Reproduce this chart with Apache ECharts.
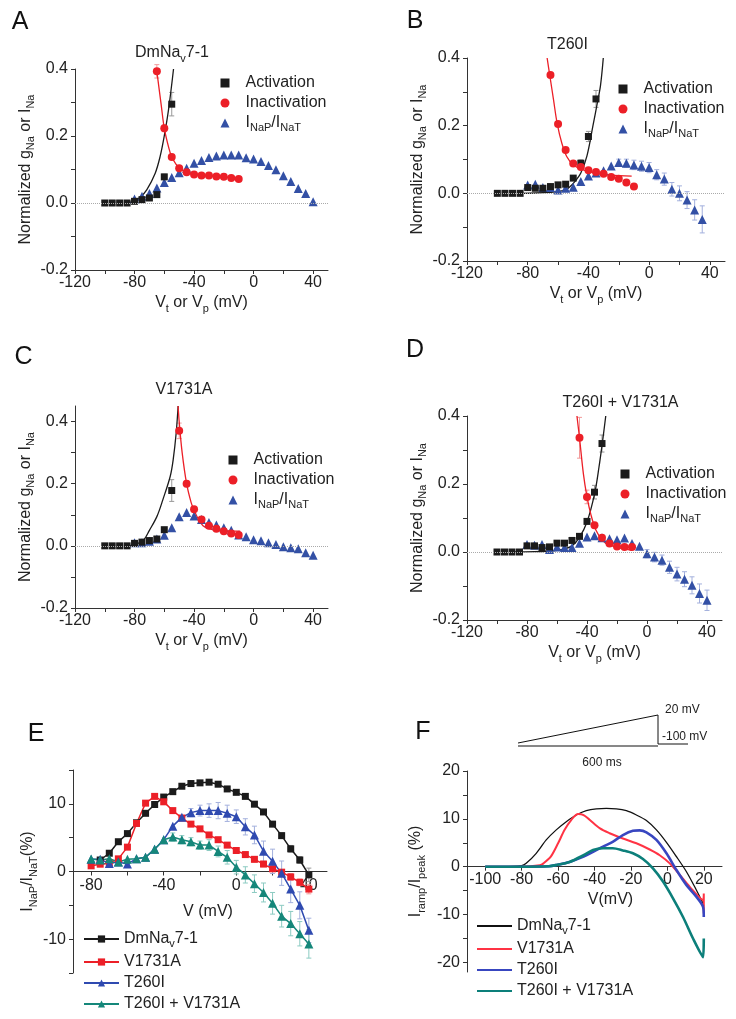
<!DOCTYPE html>
<html><head><meta charset="utf-8">
<style>html,body{margin:0;padding:0;background:#fff}#c{width:736px;height:1019px}</style>
<script src="https://cdn.jsdelivr.net/npm/echarts@6.0.0/dist/echarts.min.js"></script>
</head><body><div id="c"></div>
<script>
// ---------------- DATA ----------------
const vStep5 = [-80,-75,-70,-65,-60,-55,-50,-45,-40,-35,-30,-25,-20,-15,-10,-5,0,5,10,15,20,25,30,35,40];
// Panel A (DmNav7-1)
const vA_act = [-100,-95,-90,-85,-80,-75,-70,-65,-60,-55];
const gA_act = [0,0,0,0,0.005,0.01,0.015,0.025,0.078,0.295];
const eA_act = [0,0,0,0,0,0,0,0,0.008,0.035];
const vA_inact = [-65,-60,-55,-50,-45,-40,-35,-30,-25,-20,-15,-10];
const gA_inact = [0.393,0.223,0.137,0.104,0.092,0.085,0.082,0.082,0.079,0.078,0.075,0.072];
const eA_inact = [0.02,0.01,0,0,0,0,0,0,0,0,0,0];
const gA_ratio = [0.012,0.02,0.028,0.045,0.061,0.076,0.09,0.104,0.119,0.127,0.136,0.14,0.143,0.143,0.143,0.135,0.131,0.124,0.112,0.099,0.081,0.064,0.043,0.028,0.004];
const vA_actFit = [-85,-80.6,-76,-71.7,-66.1,-62.8,-60.1,-57.2,-53.8];
const gA_actFit = [0.001,0.005,0.018,0.04,0.089,0.139,0.198,0.277,0.4];
const vA_inactFit = [-65,-62,-60,-57,-55,-52,-50,-45,-40,-30,-20,-10];
const gA_inactFit = [0.393,0.29,0.223,0.165,0.137,0.115,0.104,0.092,0.086,0.081,0.078,0.072];
// Panel B (T260I)
const vB_act = [-100,-95,-90,-85,-80,-75,-70,-65,-60,-55,-50,-45,-40,-35];
const gB_act = [0,0,0,0,0.017,0.015,0.015,0.02,0.025,0.027,0.045,0.089,0.168,0.279];
const eB_act = [0,0,0,0,0,0,0,0,0,0,0.005,0.01,0.015,0.025];
const vB_inact = [-65,-60,-55,-50,-45,-40,-35,-30,-25,-20,-15,-10];
const gB_inact = [0.35,0.205,0.128,0.088,0.078,0.068,0.063,0.058,0.048,0.043,0.032,0.02];
const vB_ratio = [-80,-75,-70,-65,-60,-55,-50,-45,-40,-35,-30,-25,-20,-15,-10,-5,0,5,10,15,20,25,30,35];
const gB_ratio = [0.025,0.027,0.017,0.017,0.01,0.015,0.018,0.035,0.051,0.06,0.067,0.081,0.091,0.089,0.084,0.08,0.076,0.055,0.042,0.012,0.0,-0.02,-0.049,-0.077];
const eB_ratio = [0,0,0,0,0,0,0,0,0,0,0,0,0.01,0.012,0.014,0.015,0.015,0.015,0.018,0.02,0.022,0.025,0.03,0.04];
const vB_actFit = [-85,-75,-65,-60,-55,-52,-48,-45,-41,-37,-34,-32,-30.2];
const gB_actFit = [0,0.001,0.003,0.005,0.01,0.02,0.04,0.06,0.11,0.2,0.27,0.32,0.4];
const vB_inactFit = [-67.2,-65.5,-63,-60.6,-57.5,-54.3,-49.9,-43.4,-34.6,-25.8,-11.5];
const gB_inactFit = [0.4,0.35,0.277,0.207,0.148,0.109,0.084,0.069,0.059,0.054,0.051];
// Panel C (V1731A)
const vC_act = [-100,-95,-90,-85,-80,-75,-70,-65,-60,-55];
const gC_act = [0,0,0,0,0.008,0.012,0.017,0.022,0.052,0.178];
const eC_act = [0,0,0,0,0,0,0,0,0.005,0.035];
const vC_inact = [-50,-45,-40,-35,-30,-25,-20,-15,-10];
const gC_inact = [0.37,0.2,0.118,0.085,0.065,0.055,0.047,0.04,0.035];
const eC_inact = [0.025,0.01,0,0,0,0,0,0,0];
const gC_ratio = [0.01,0.01,0.015,0.022,0.034,0.058,0.094,0.107,0.096,0.085,0.075,0.067,0.058,0.05,0.035,0.029,0.02,0.016,0.01,0.004,-0.003,-0.006,-0.009,-0.022,-0.03];
const vC_actFit = [-85,-80,-74,-70,-65,-61,-56,-54,-52,-50.7];
const gC_actFit = [0,0.004,0.018,0.05,0.094,0.148,0.224,0.278,0.364,0.45];
const vC_inactFit = [-50.7,-50,-48,-45,-42,-40,-37,-34,-30,-25,-15,-9];
const gC_inactFit = [0.45,0.4,0.3,0.2,0.14,0.115,0.085,0.065,0.055,0.05,0.048,0.047];
// Panel D (T260I + V1731A)
const vD_act = [-100,-95,-90,-85,-80,-75,-70,-65,-60,-55,-50,-45,-40,-35,-30];
const gD_act = [0,0,0,0,0.018,0.018,0.013,0.015,0.026,0.026,0.034,0.046,0.09,0.176,0.319];
const eD_act = [0,0,0,0,0,0,0,0,0,0,0,0,0.008,0.02,0.025];
const vD_inact = [-45,-40,-35,-30,-25,-20,-15,-10];
const gD_inact = [0.336,0.162,0.079,0.042,0.025,0.016,0.015,0.015];
const eD_inact = [0.06,0.02,0.008,0,0,0,0,0];
const gD_ratio = [0.022,0.02,0.022,0.007,0.015,0.013,0.013,0.026,0.044,0.048,0.042,0.039,0.036,0.041,0.025,0.017,-0.005,-0.015,-0.024,-0.045,-0.065,-0.08,-0.098,-0.122,-0.142];
const eD_ratio = [0,0,0,0,0,0,0,0,0,0,0,0,0,0,0,0,0.012,0.014,0.015,0.018,0.02,0.022,0.025,0.028,0.03];
const vD_actFit = [-90,-75,-65,-60,-55,-50,-45,-40,-35,-32,-29.5,-27.5];
const gD_actFit = [0,0.001,0.003,0.005,0.009,0.018,0.043,0.088,0.17,0.25,0.33,0.4];
const vD_inactFit = [-46.7,-45,-42.4,-40,-37.4,-34,-29.6,-25,-16,-10];
const gD_inactFit = [0.4,0.336,0.23,0.162,0.11,0.064,0.034,0.02,0.01,0.005];
// Panel E (INaP/INaT %)
const vE_black = [-75,-70,-65,-60,-55,-50,-45,-40,-35,-30,-25,-20,-15,-10,-5,0,5,10,15,20,25,30,35,40];
const pE_black = [1.7,2.7,4.4,5.6,7.2,8.6,9.9,11.0,11.8,12.6,13.0,13.1,13.2,12.9,12.2,11.7,11.1,9.95,8.8,7.0,5.3,3.35,1.7,-0.5];
const eE_black = [0,0,0,0,0,0,0,0,0,0,0,0,0,0,0.3,0.3,0.3,0.3,0.3,0.3,0.4,0.5,0.5,1.0];
const pE_red = [0.84,1.08,1.23,1.87,3.6,7.1,10.1,11.1,10.3,9.0,7.9,7.0,6.3,5.4,4.7,3.9,3.1,2.5,1.8,1.1,0.4,-0.1,-0.8,-1.6,-2.6];
const eE_red = [0,0,0,0,0,0,0,0,0,0,0,0,0,0,0,0,0.4,0.4,0.4,0.4,0.4,0.4,0.5,0.5,0.7];
const pE_blue = [1.8,1.8,1.2,1.4,1.1,1.9,2.1,3.3,4.7,6.7,8.0,8.7,9.0,9.0,9.0,8.6,8.1,6.6,5.4,3.0,1.5,-0.25,-2.6,-5.0,-8.7];
const eE_blue = [0,0,0,0,0,0,0,0,0,0,0,0.6,0.8,1.0,1.2,1.2,1.0,1.2,1.3,1.5,1.8,1.8,2.0,2.0,1.8];
const pE_teal = [1.85,1.7,1.9,1.4,1.8,1.9,2.1,3.3,4.7,5.1,4.7,4.4,3.9,3.9,2.96,2.1,0.64,-0.5,-1.8,-3.1,-4.7,-6.6,-7.7,-9.2,-10.7];
const eE_teal = [0,0,0,0,0,0,0,0,0,0.6,0.6,0.6,0.6,0.8,0.8,1.0,1.0,1.2,1.3,1.4,1.6,1.6,1.8,1.8,2.1];
// Panel F (ramp currents, Iramp/Ipeak %)
const vF_black = [-100,-90,-80,-77.5,-72,-66.5,-61,-55.5,-50,-44.5,-39,-33.5,-28,-22.5,-17,-11.5,-6,-0.5,5,10.4,15,19.6,20];
const iF_black = [0,0,0.2,0.7,2.8,5.6,7.7,9.4,10.8,11.7,12.1,12.2,12.1,11.7,10.8,9.65,7.7,5.1,2.1,-1.0,-4.2,-7.7,-8.2];
const vF_red = [-100,-80,-70,-68,-64,-60,-56.4,-52.7,-49,-46,-42.7,-37,-31.7,-24.4,-17,-9.7,-4.2,1.3,6.8,12.3,19.6,20,20];
const iF_red = [0,0,0.3,0.7,2.1,4.9,7.7,9.8,11.0,10.8,9.8,8.0,7.0,5.9,4.9,3.6,2.4,0.7,-1.7,-4.2,-7.0,-5.6,-9.8];
const vF_blue = [-100,-80,-65,-61,-53.7,-46,-40.8,-35.3,-30,-24.4,-18.9,-15.2,-11.5,-6,-0.5,5,10.4,16,19.6,20];
const iF_blue = [0,0,0.1,0.35,1.0,2.1,3.1,4.2,5.2,6.6,7.5,7.6,7.2,5.6,2.8,-0.7,-3.8,-6.3,-8.4,-10.5];
const vF_teal = [-100,-80,-65,-61,-53.7,-46,-40.8,-35.3,-30,-24.4,-18.9,-13.4,-7.9,-2.4,3.1,8.6,14.1,19.6,20];
const iF_teal = [0,0,0.1,0.35,1.0,2.4,3.5,3.85,3.85,3.4,2.8,1.6,-0.35,-3.1,-6.6,-10.5,-15,-18.9,-15];
// tick / label values
const xTicksAD = [-120,-100,-80,-60,-40,-20,0,20,40];
const xLabelsAD = [-120,-80,-40,0,40];
const yTicksAD = [-0.2,-0.1,0,0.1,0.2,0.3,0.4];
const yLabelsAD = [-0.2,0,0.2,0.4];
const xTicksE = [-80,-60,-40,-20,0,20,40];
const xLabelsE = [-80,-40,0,40];
const yTicksE = [-15,-10,-5,0,5,10,15];
const yLabelsE = [-10,0,10];
const xTicksF = [-100,-80,-60,-40,-20,0,20];
const xLabelsF = [-100,-80,-60,-40,-20,0,20];
const yTicksF = [-20,-15,-10,-5,0,5,10,15,20];
const yLabelsF = [-20,-10,0,10,20];

// ---------------- STYLE ----------------
const FONT = 'Liberation Sans';
const TXT = '#222';
const AX = '#333';
const rich = {
  n: {fontSize:16, lineHeight:22, color:TXT, fontFamily:FONT},
  s: {fontSize:11, lineHeight:11, color:TXT, fontFamily:FONT, verticalAlign:'bottom'}
};
const richL = {
  n: {fontSize:16, lineHeight:20, color:TXT, fontFamily:FONT},
  s: {fontSize:11, lineHeight:10, color:TXT, fontFamily:FONT, verticalAlign:'bottom'}
};
const C = {black:'#1b1b1b', red:'#ec1f27', blue:'#3350a5', teal:'#15877a'};
const CE = {black:'#999999', red:'#f29a9a', blue:'#a3b0dd', teal:'#8ccbc2'};
const NAME_MAP = {
  'INaP/INaT':'{n|I}{s|NaP}{n|/I}{s|NaT}',
  'DmNav7-1':'{n|DmNa}{s|v}{n|7-1}'
};
function fmtName(name){
  const nm = name.replace(/^F:/,'');
  return NAME_MAP[nm] || ('{n|' + nm + '}');
}
const pairs = (xs, ys) => xs.map((x,i)=>[x, ys[i]]);

const gridDefs = [
  {left:75, top:69, width:253, height:201},
  {left:467, top:58, width:258, height:203},
  {left:75, top:406, width:253, height:202},
  {left:467, top:416, width:255, height:204},
  {left:73, top:770, width:254, height:203},
  {left:467, top:771, width:255, height:201}
];
const grids = gridDefs.map(g => Object.assign({outerBoundsMode:'none', containLabel:false}, g));

// offset (px) that puts a bottom x axis on the y = 0 line of its grid
function zeroOffset(gi, ymin, ymax){ return -gridDefs[gi].height * (0 - ymin) / (ymax - ymin); }

function xAx(gi, min, max, ticks, labels, name, nameGap, offset, margin, nameExtra){
  return {type:'value', gridIndex:gi, min, max, position:'bottom', offset,
    axisLine:{onZero:false, lineStyle:{color:AX, width:1}},
    axisTick:{customValues:ticks, length:4, lineStyle:{color:AX}},
    axisLabel:{customValues:labels, fontSize:16, color:TXT, fontFamily:FONT, margin},
    splitLine:{show:false},
    name, nameLocation:'middle', nameGap,
    nameTextStyle:Object.assign({rich, fontFamily:FONT, fontSize:16, color:TXT}, nameExtra||{})};
}
function yAx(gi, min, max, ticks, labels, fmt, name, nameGap){
  return {type:'value', gridIndex:gi, min, max,
    axisLine:{onZero:false, lineStyle:{color:AX, width:1}},
    axisTick:{customValues:ticks, length:4, lineStyle:{color:AX}},
    axisLabel:{customValues:labels, fontSize:16, color:TXT, fontFamily:FONT, margin:7, formatter:fmt},
    splitLine:{show:false},
    name, nameLocation:'middle', nameGap,
    nameTextStyle:{rich, fontFamily:FONT, fontSize:16, color:TXT}};
}
const f1 = v => Number(v).toFixed(1);
const nameG = '{n|Normalized g}{s|Na}{n| or I}{s|Na}';
const nameV = '{n|V}{s|t}{n| or V}{s|p}{n| (mV)}';

const xAxes = [
  xAx(0,-120,50,xTicksAD,xLabelsAD,nameV,22,0,5),
  xAx(1,-120,50,xTicksAD,xLabelsAD,nameV,22,0,5),
  xAx(2,-120,50,xTicksAD,xLabelsAD,nameV,22,0,5),
  xAx(3,-120,50,xTicksAD,xLabelsAD,nameV,22,0,5),
  xAx(4,-90,50,xTicksE,xLabelsE,'{n|V (mV)}',29,zeroOffset(4,-15,15),6,{padding:[0,0,0,16]}),
  xAx(5,-110,30,xTicksF,xLabelsF,'{n|V(mV)}',22,zeroOffset(5,-22,20),5,{padding:[0,0,0,32]})
];
const yAxes = [
  yAx(0,-0.2,0.4,yTicksAD,yLabelsAD,f1,nameG,36),
  yAx(1,-0.2,0.4,yTicksAD,yLabelsAD,f1,nameG,37),
  yAx(2,-0.2,0.45,yTicksAD,yLabelsAD,f1,nameG,36),
  yAx(3,-0.2,0.4,yTicksAD,yLabelsAD,f1,nameG,37),
  yAx(4,-15,15,yTicksE,yLabelsE,null,'{n|I}{s|NaP}{n|/I}{s|NaT}{n|(%)}',34),
  yAx(5,-22,20,yTicksF,yLabelsF,null,'{n|I}{s|ramp}{n|/I}{s|peak}{n| (%)}',40)
];

// ---------------- SERIES helpers ----------------
function sc(gi, name, xs, ys, sym, size, color, zero){
  const s = {type:'scatter', name, xAxisIndex:gi, yAxisIndex:gi, data:pairs(xs,ys),
    symbol:sym, symbolSize:size, itemStyle:{color, opacity:1}, z:4, silent:true};
  if (zero) s.markLine = {silent:true, symbol:'none', label:{show:false}, animation:false,
    lineStyle:{type:'dotted', color:'#aaaaaa', width:1}, data:[{yAxis:0}]};
  return s;
}
function fit(gi, xs, ys, color){
  return {type:'line', name:'fit', xAxisIndex:gi, yAxisIndex:gi, data:pairs(xs,ys),
    symbol:'none', showSymbol:false, smooth:0.35, lineStyle:{color, width:1.3}, z:3, silent:true};
}
function err(gi, xs, ys, es, color){
  const data = [];
  xs.forEach((x,i)=>{ if (es[i]) data.push([x, ys[i]-es[i], ys[i]+es[i]]); });
  return {type:'custom', xAxisIndex:gi, yAxisIndex:gi, data, z:2, silent:true,
    encode:{x:0, y:[1,2]},
    renderItem:(p, api)=>{
      const x = api.value(0);
      const a = api.coord([x, api.value(1)]), b = api.coord([x, api.value(2)]);
      const w = 2.5, st = {stroke:color, lineWidth:1};
      return {type:'group', children:[
        {type:'line', shape:{x1:a[0],y1:a[1],x2:b[0],y2:b[1]}, style:st},
        {type:'line', shape:{x1:a[0]-w,y1:a[1],x2:a[0]+w,y2:a[1]}, style:st},
        {type:'line', shape:{x1:b[0]-w,y1:b[1],x2:b[0]+w,y2:b[1]}, style:st}]};
    }};
}
function eLine(name, xs, ys, sym, size, color){
  return {type:'line', name, xAxisIndex:4, yAxisIndex:4, data:pairs(xs,ys), symbol:sym, symbolSize:size,
    showSymbol:true, lineStyle:{color, width:1.5}, itemStyle:{color}, z:4, silent:true};
}
function fLine(name, xs, ys, color, w){
  return {type:'line', name:'F:'+name, xAxisIndex:5, yAxisIndex:5, data:pairs(xs,ys), symbol:'none', showSymbol:false,
    smooth:0.3, lineStyle:{color, width:w}, itemStyle:{color}, z:4, silent:true};
}

const series = [
  // A
  err(0,vA_act,gA_act,eA_act,CE.black), err(0,vA_inact,gA_inact,eA_inact,CE.red),
  fit(0,vA_actFit,gA_actFit,C.black), fit(0,vA_inactFit,gA_inactFit,C.red),
  sc(0,'INaP/INaT',vStep5,gA_ratio,'triangle',9,C.blue,true),
  sc(0,'Activation',vA_act,gA_act,'rect',7,C.black),
  sc(0,'Inactivation',vA_inact,gA_inact,'circle',8,C.red),
  // B
  err(1,vB_act,gB_act,eB_act,CE.black), err(1,vB_ratio,gB_ratio,eB_ratio,CE.blue),
  fit(1,vB_actFit,gB_actFit,C.black), fit(1,vB_inactFit,gB_inactFit,C.red),
  sc(1,'INaP/INaT',vB_ratio,gB_ratio,'triangle',9,C.blue,true),
  sc(1,'Activation',vB_act,gB_act,'rect',7,C.black),
  sc(1,'Inactivation',vB_inact,gB_inact,'circle',8,C.red),
  // C
  err(2,vC_act,gC_act,eC_act,CE.black), err(2,vC_inact,gC_inact,eC_inact,CE.red),
  fit(2,vC_actFit,gC_actFit,C.black), fit(2,vC_inactFit,gC_inactFit,C.red),
  sc(2,'INaP/INaT',vStep5,gC_ratio,'triangle',9,C.blue,true),
  sc(2,'Activation',vC_act,gC_act,'rect',7,C.black),
  sc(2,'Inactivation',vC_inact,gC_inact,'circle',8,C.red),
  // D
  err(3,vD_act,gD_act,eD_act,CE.black), err(3,vD_inact,gD_inact,eD_inact,CE.red), err(3,vStep5,gD_ratio,eD_ratio,CE.blue),
  fit(3,vD_actFit,gD_actFit,C.black), fit(3,vD_inactFit,gD_inactFit,C.red),
  sc(3,'INaP/INaT',vStep5,gD_ratio,'triangle',9,C.blue,true),
  sc(3,'Activation',vD_act,gD_act,'rect',7,C.black),
  sc(3,'Inactivation',vD_inact,gD_inact,'circle',8,C.red),
  // E
  err(4,vE_black,pE_black,eE_black,CE.black), err(4,vStep5,pE_red,eE_red,CE.red),
  err(4,vStep5,pE_blue,eE_blue,CE.blue), err(4,vStep5,pE_teal,eE_teal,CE.teal),
  eLine('DmNav7-1',vE_black,pE_black,'rect',7,C.black),
  eLine('V1731A',vStep5,pE_red,'rect',7,C.red),
  eLine('T260I',vStep5,pE_blue,'triangle',9,'#2f4ab0'),
  eLine('T260I + V1731A',vStep5,pE_teal,'triangle',9,C.teal),
  // F
  fLine('DmNav7-1',vF_black,iF_black,'#111111',1.3),
  fLine('V1731A',vF_red,iF_red,'#ff3344',2),
  fLine('T260I',vF_blue,iF_blue,'#3846c0',2.6),
  fLine('T260I + V1731A',vF_teal,iF_teal,'#0c7f7a',2.6)
];

function legAD(left, top){
  return {left, top, orient:'vertical', itemWidth:9, itemHeight:9, itemGap:4, selectedMode:false,
    data:[{name:'Activation', icon:'rect'},{name:'Inactivation', icon:'circle'},{name:'INaP/INaT', icon:'triangle'}],
    formatter:fmtName, textStyle:{fontSize:16, color:TXT, fontFamily:FONT, padding:[0,0,0,11], rich:richL}};
}
function legEF(left, top, names, icon, ih, gap){
  return {left, top, orient:'vertical', itemWidth:35, itemHeight:ih, itemGap:gap, selectedMode:false,
    height:100, padding:0,
    data:names.map(n => icon ? {name:n, icon} : n), formatter:fmtName,
    textStyle:{fontSize:16, color:TXT, fontFamily:FONT, rich:richL}};
}
const legends = [
  legAD(215.5,70), legAD(613.5,76), legAD(223.5,447), legAD(615.5,461),
  legEF(83,931,['DmNav7-1','V1731A','T260I','T260I + V1731A'],null,9,5),
  legEF(477,918,['F:DmNav7-1','F:V1731A','F:T260I','F:T260I + V1731A'],'rect',2,5)
];

function letter(t,x,y){
  return {type:'text', x, y, silent:true, style:{text:t, fontSize:25, fontFamily:FONT, fill:'#111', align:'center', verticalAlign:'middle'}};
}
function ttl(t,x,y){
  return {type:'text', x, y, silent:true, style:{text:t, rich, fontSize:16, fontFamily:FONT, fill:TXT, align:'center', verticalAlign:'middle'}};
}
function small(t,x,y,align){
  return {type:'text', x, y, silent:true, style:{text:t, fontSize:12, fontFamily:FONT, fill:'#222', align, verticalAlign:'middle'}};
}
const graphic = [
  letter('A',20,22.5), letter('B',415,21.5), letter('C',23.5,357.5), letter('D',415,350), letter('E',36,734), letter('F',423,732),
  ttl('{n|DmNa}{s|v}{n|7-1}',172,53), ttl('{n|T260I}',567.5,45), ttl('{n|V1731A}',184,390), ttl('{n|T260I + V1731A}',620.5,402.5),
  {type:'polyline', silent:true, shape:{points:[[518,743],[658,715],[658,744],[688,744]]}, style:{stroke:'#111', lineWidth:1, fill:null}},
  {type:'line', silent:true, shape:{x1:518,y1:746,x2:658,y2:746}, style:{stroke:'#111', lineWidth:1}},
  small('20 mV',665,710,'left'), small('-100 mV',662,737,'left'), small('600 ms',602,763,'center')
];

const chart = echarts.init(document.getElementById('c'), null, {renderer:'canvas', width:736, height:1019});
chart.setOption({
  animation:false,
  backgroundColor:'#ffffff',
  textStyle:{fontFamily:FONT},
  grid:grids, xAxis:xAxes, yAxis:yAxes, legend:legends, series, graphic
});
</script>
</body></html>
